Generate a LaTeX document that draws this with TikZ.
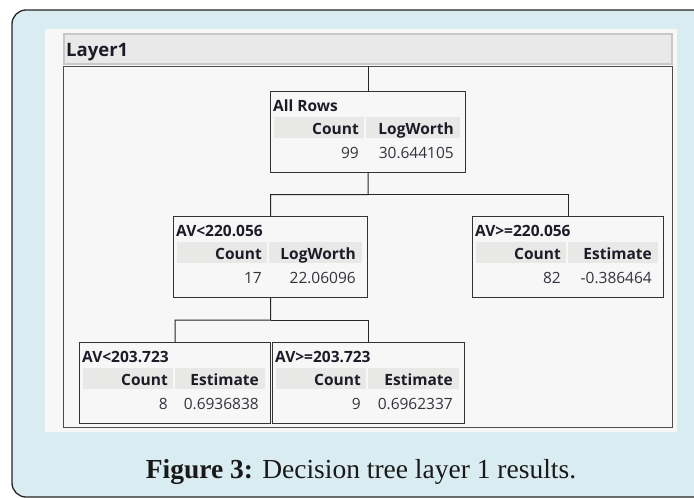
\documentclass[tikz,border=0pt]{standalone}
\usepackage{fontspec}
\usetikzlibrary{calc}
\newfontfamily\uifont{Open Sans}
\newfontfamily\capfont{Liberation Serif}
\definecolor{outerbg}{HTML}{D9ECF2}
\definecolor{panelbg}{HTML}{F7F7F7}
\definecolor{bandbg}{HTML}{E8E8E6}
\definecolor{barbg}{HTML}{E9E9E9}
\definecolor{barline}{HTML}{C8C8C8}
\definecolor{boxline}{HTML}{333333}
\definecolor{txt}{HTML}{1C1C28}
\tikzset{
  treebox/.style={draw=boxline, line width=1.2pt, fill=panelbg, rectangle, inner sep=0pt, minimum height=81pt, anchor=north west},
  bandcell/.style={fill=bandbg, rectangle, inner sep=0pt, minimum height=21pt, anchor=north west},
  titletxt/.style={inner sep=0pt, anchor=base west, font=\uifont\bfseries\fontsize{15.5}{18}\selectfont, text=txt},
  headtxt/.style={inner sep=0pt, anchor=base east, font=\uifont\bfseries\fontsize{15.5}{18}\selectfont, text=txt},
  valtxt/.style={inner sep=0pt, anchor=base east, font=\uifont\fontsize{15.5}{18}\selectfont, text=txt!90},
  conn/.style={draw=black!85, line width=1.2pt}
}
% #1 name, #2 L, #3 T, #4 W, #5 title, #6 second header, #7 count, #8 value
\newcommand{\tbox}[8]{%
  \node[treebox, minimum width=#4pt] (#1) at (#2,#3) {};
  \node[bandcell, minimum width=90pt] (#1-c1) at (#2+4,#3+26) {};
  \node[bandcell, minimum width=#4pt-101pt] (#1-c2) at (#2+96,#3+26) {};
  \node[titletxt] (#1-t) at (#2+3,#3+20) {#5};
  \node[headtxt] (#1-h1) at (#2+89,#3+43.5) {Count};
  \node[headtxt] (#1-h2) at (#2+#4-11,#3+43.5) {#6};
  \node[valtxt] (#1-v1) at (#2+89,#3+67.5) {#7};
  \node[valtxt] (#1-v2) at (#2+#4-11,#3+67.5) {#8};
}
\begin{document}
\begin{tikzpicture}[x=1pt,y=-1pt]
\useasboundingbox (0,0) rectangle (694,498);
% outer card
\fill[outerbg] (12,10) [rounded corners=14pt] rectangle (730,497);
\draw[line width=1.3pt, black!85, rounded corners=14pt] (730,10) -- (12,10) -- (12,497) -- (730,497);
% inner panel
\fill[panelbg] (45,29) rectangle (677,432);
% header bar
\node[draw=barline, fill=barbg, line width=1.5pt, rectangle, inner sep=0pt, minimum width=608pt, minimum height=30pt, anchor=north west] (bar) at (63,33) {};
\node[inner sep=0pt, anchor=base west, font=\uifont\bfseries\fontsize{18.5}{22}\selectfont, text=txt] (bartitle) at (66,56) {Layer1};
% tree frame
\node[draw=black!70, line width=1.2pt, rectangle, inner sep=0pt, minimum width=609pt, minimum height=361pt, anchor=north west] (frame) at (63,66) {};
% boxes
\tbox{root}{270}{91}{195}{All Rows}{LogWorth}{99}{30.644105}
\tbox{ca}{173}{216}{194}{AV<220.056}{LogWorth}{17}{22.06096}
\tbox{cb}{472}{216}{191}{AV>=220.056}{Estimate}{82}{-0.386464}
\tbox{caa}{79}{342}{191}{AV<203.723}{Estimate}{8}{0.6936838}
\tbox{cab}{272}{342}{192}{AV>=203.723}{Estimate}{9}{0.6962337}
% connectors
\draw[conn] (root.north) -- (root.north |- frame.north);
\coordinate (j1) at ($(root.south)!0.5!(root.south |- ca.north)$);
\draw[conn] (root.south) -- (j1) -| (ca.north);
\draw[conn] (j1) -| (cb.north);
\coordinate (j2) at ($(ca.south)!0.5!(ca.south |- caa.north)$);
\draw[conn] (ca.south) -- (j2) -| (caa.north);
\draw[conn] (j2) -| (cab.north);
% caption
\node[inner sep=0pt, anchor=base, font=\capfont\fontsize{27.5}{32}\selectfont, text=black!90] (caption) at (361,478) {\textbf{Figure 3:} Decision tree layer 1 results.};
\end{tikzpicture}
\end{document}
